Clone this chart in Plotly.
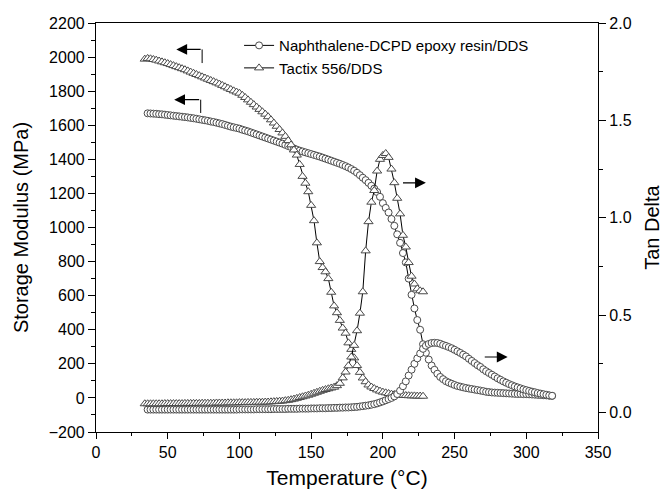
import plotly.graph_objects as go

# ---------------- data ----------------
# Naphthalene-DCPD epoxy resin/DDS
naph_T = [36, 38, 40, 42, 44, 46, 48, 50, 52, 54, 56, 58, 60, 62, 64, 66, 68, 70, 72, 74,
          76, 78, 80, 82, 84, 86, 88, 90, 92, 94, 96, 98, 100, 102, 104, 106, 108, 110, 112, 114,
          116, 118, 120, 122, 124, 126, 128, 130, 132, 134, 136, 138, 140, 142, 144, 146, 148, 150, 152, 154,
          156, 158, 160, 162, 164, 166, 168, 170, 172, 174, 176, 178, 180, 182, 184, 186, 188, 190, 192, 194,
          196, 198, 200, 202, 204, 206, 208, 210, 212, 214, 216, 218, 220, 222, 224, 226, 228, 230, 232, 234,
          236, 238, 240, 242, 244, 246, 248, 250, 252, 254, 256, 258, 260, 262, 264, 266, 268, 270, 272, 274,
          276, 278, 280, 282, 284, 286, 288, 290, 292, 294, 296, 298, 300, 302, 304, 306, 308, 310, 312, 314,
          316, 318]
naph_modulus = [1670, 1669, 1668, 1667, 1665, 1664, 1662, 1660, 1658, 1656, 1654, 1652, 1650, 1648, 1646, 1643, 1641, 1638, 1635, 1632,
                1629, 1626, 1622, 1619, 1615, 1611, 1607, 1602, 1597, 1592, 1588, 1584, 1580, 1574, 1569, 1564, 1558, 1552, 1546, 1540,
                1534, 1528, 1522, 1516, 1510, 1504, 1498, 1492, 1485, 1478, 1472, 1464, 1457, 1451, 1446, 1441, 1436, 1431, 1426, 1421,
                1416, 1410, 1404, 1398, 1392, 1386, 1380, 1374, 1367, 1360, 1352, 1343, 1333, 1321, 1307, 1292, 1278, 1262, 1245, 1228,
                1208, 1180, 1143, 1115, 1088, 1050, 1010, 960, 910, 850, 795, 700, 605, 525, 457, 400, 315, 265, 225, 190,
                165, 142, 123, 110, 98, 90, 83, 76, 70, 66, 62, 58, 55, 52, 49, 46, 43, 40, 36, 34,
                32, 31, 30, 29, 28, 27, 26, 25, 24, 23, 23, 22, 22, 21, 20, 19, 18, 17, 16, 15,
                13, 12]
naph_tand = [0.015, 0.015, 0.015, 0.015, 0.015, 0.015, 0.015, 0.015, 0.015, 0.015, 0.015, 0.015, 0.015, 0.015, 0.015, 0.015, 0.015, 0.015, 0.015, 0.015,
             0.015, 0.015, 0.015, 0.015, 0.015, 0.015, 0.015, 0.015, 0.015, 0.015, 0.015, 0.015, 0.016, 0.016, 0.016, 0.016, 0.016, 0.016, 0.017, 0.017,
             0.017, 0.017, 0.017, 0.017, 0.018, 0.018, 0.018, 0.018, 0.018, 0.019, 0.019, 0.019, 0.019, 0.020, 0.020, 0.020, 0.020, 0.021, 0.021, 0.021,
             0.022, 0.022, 0.022, 0.023, 0.023, 0.024, 0.024, 0.025, 0.025, 0.026, 0.026, 0.027, 0.028, 0.029, 0.031, 0.033, 0.035, 0.037, 0.040, 0.043,
             0.047, 0.052, 0.057, 0.063, 0.069, 0.075, 0.083, 0.095, 0.112, 0.135, 0.160, 0.190, 0.220, 0.250, 0.278, 0.303, 0.327, 0.343, 0.352, 0.357,
             0.358, 0.357, 0.353, 0.347, 0.342, 0.336, 0.330, 0.322, 0.314, 0.306, 0.297, 0.288, 0.276, 0.265, 0.254, 0.243, 0.234, 0.222, 0.212, 0.203,
             0.194, 0.185, 0.176, 0.168, 0.160, 0.153, 0.146, 0.140, 0.134, 0.129, 0.124, 0.119, 0.115, 0.111, 0.107, 0.104, 0.100, 0.097, 0.094, 0.091,
             0.088, 0.086]

# Tactix 556/DDS
tac_T = [34, 36, 38, 40, 42, 44, 46, 48, 50, 52, 54, 56, 58, 60, 62, 64, 66, 68, 70, 72,
         74, 76, 78, 80, 82, 84, 86, 88, 90, 92, 94, 96, 98, 100, 102, 104, 106, 108, 110, 112,
         114, 116, 118, 120, 122, 124, 126, 128, 130, 132, 134, 136, 138, 140, 142, 144, 146, 148, 150, 152,
         154, 156, 158, 160, 162, 164, 166, 168, 170, 172, 174, 176, 178, 180, 182, 184, 186, 188, 190, 192,
         194, 196, 198, 200, 202, 204, 206, 208, 210, 212, 214, 216, 218, 220, 222, 224, 226, 228]
tac_modulus = [1988, 1992, 1990, 1986, 1982, 1977, 1972, 1967, 1962, 1956, 1950, 1944, 1938, 1932, 1926, 1919, 1912, 1905, 1898, 1891,
               1884, 1877, 1870, 1863, 1856, 1849, 1842, 1834, 1826, 1818, 1810, 1802, 1795, 1788, 1776, 1763, 1749, 1735, 1721, 1707,
               1693, 1679, 1665, 1650, 1632, 1613, 1594, 1575, 1555, 1535, 1510, 1485, 1455, 1425, 1370, 1300, 1260, 1210, 1130, 1040,
               910, 800, 765, 740, 700, 620, 540, 500, 455, 410, 380, 323, 285, 235, 190, 150, 117, 95, 76, 64,
               55, 47, 40, 34, 30, 26, 22, 20, 18, 16, 15, 14, 13, 12, 12, 11, 11, 10]
tac_tand = [0.045, 0.045, 0.045, 0.045, 0.045, 0.045, 0.045, 0.046, 0.046, 0.046, 0.046, 0.046, 0.046, 0.046, 0.047, 0.047, 0.047, 0.047, 0.047, 0.047,
            0.048, 0.048, 0.048, 0.048, 0.048, 0.049, 0.049, 0.049, 0.049, 0.050, 0.050, 0.050, 0.050, 0.051, 0.051, 0.051, 0.052, 0.052, 0.052, 0.053,
            0.053, 0.053, 0.054, 0.054, 0.055, 0.056, 0.057, 0.058, 0.059, 0.061, 0.063, 0.066, 0.069, 0.073, 0.077, 0.081, 0.085, 0.089, 0.094, 0.099,
            0.104, 0.109, 0.114, 0.118, 0.122, 0.126, 0.130, 0.138, 0.150, 0.178, 0.208, 0.240, 0.285, 0.345, 0.420, 0.510, 0.620, 0.830, 0.980, 1.080,
            1.140, 1.240, 1.300, 1.320, 1.330, 1.310, 1.250, 1.180, 1.100, 1.020, 0.910, 0.850, 0.770, 0.700, 0.660, 0.635, 0.625, 0.620]

# axis ticks
x_ticks = [0, 50, 100, 150, 200, 250, 300, 350]
y_ticks = [-200, 0, 200, 400, 600, 800, 1000, 1200, 1400, 1600, 1800, 2000, 2200]
y2_ticks = [0.0, 0.5, 1.0, 1.5, 2.0]

FONT = "Liberation Sans, Arial, sans-serif"
MCOL = "#4a4a4a"

fig = go.Figure()

def add(x, y, name, symbol, size, yaxis, showlegend):
    fig.add_trace(go.Scatter(
        x=x, y=y, name=name, yaxis=yaxis, mode="lines+markers",
        line=dict(color="black", width=1),
        marker=dict(symbol=symbol, size=size, color="white",
                    line=dict(color=MCOL, width=1)),
        showlegend=showlegend,
    ))

add(naph_T, naph_tand, "Naphthalene-DCPD epoxy resin/DDS", "circle", 7, "y2", False)
add(tac_T, tac_tand, "Tactix 556/DDS", "triangle-up", 8, "y2", False)
add(naph_T, naph_modulus, "Naphthalene-DCPD epoxy resin/DDS", "circle", 7, "y", True)
add(tac_T, tac_modulus, "Tactix 556/DDS", "triangle-up", 8, "y", True)

# arrows indicating which axis applies
def hook_arrow(x_tail, x_head, y, y_hook=None):
    if y_hook is not None:
        fig.add_shape(type="line", xref="x", yref="y", x0=x_tail, x1=x_tail,
                      y0=y, y1=y_hook, line=dict(color="black", width=1))
    fig.add_annotation(x=x_head, y=y, ax=x_tail, ay=y, xref="x", yref="y",
                       axref="x", ayref="y", text="", showarrow=True,
                       arrowhead=2, arrowsize=1.8, arrowwidth=1.2, arrowcolor="black")

hook_arrow(74, 56, 2045, 1965)
hook_arrow(73, 54.5, 1750, 1672)
hook_arrow(213, 230, 1262)
hook_arrow(270, 287, 240)

axis_common = dict(showline=True, linecolor="black", linewidth=1.2, ticks="outside",
                   tickcolor="black", tickfont=dict(family=FONT, size=16, color="black"),
                   showgrid=False, zeroline=False, automargin=False)

fig.update_layout(
    width=671, height=494,
    margin=dict(l=88, r=81, t=15, b=70),
    paper_bgcolor="white", plot_bgcolor="white",
    font=dict(family=FONT, color="black"),
    xaxis=dict(range=[0, 350], tickvals=x_ticks, ticklen=6,
               minor=dict(dtick=25, ticklen=3, ticks="outside", tickcolor="black"),
               mirror=True,
               title=dict(text="Temperature (°C)", font=dict(size=21), standoff=10),
               **axis_common),
    yaxis=dict(range=[-200, 2200], tickvals=y_ticks, ticklen=7,
               minor=dict(dtick=100, tick0=0, ticklen=4, ticks="outside", tickcolor="black"),
               title=dict(text="Storage Modulus (MPa)", font=dict(size=20), standoff=14),
               **axis_common),
    yaxis2=dict(range=[-0.1, 2.0], tickvals=y2_ticks, tickformat=".1f", ticklen=7,
                overlaying="y", side="right", anchor="x",
                minor=dict(dtick=0.25, tick0=0, ticklen=4, ticks="outside", tickcolor="black"),
                title=dict(text="Tan Delta", font=dict(size=20), standoff=14),
                **axis_common),
    legend=dict(x=0.285, y=0.985, xanchor="left", yanchor="top",
                bgcolor="rgba(0,0,0,0)", font=dict(family=FONT, size=15),
                tracegroupgap=0, itemwidth=30),
)

fig.write_html("out.html")
